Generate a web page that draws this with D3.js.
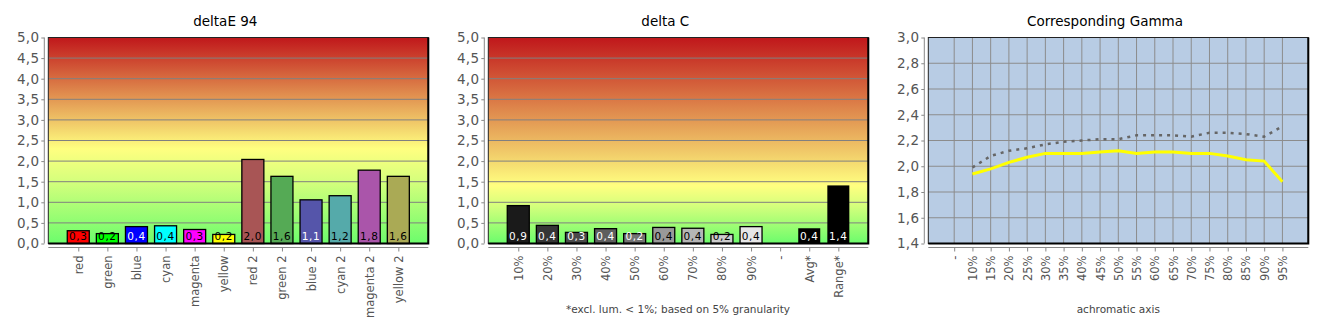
<!DOCTYPE html>
<html><head><meta charset="utf-8">
<script src="https://cdn.jsdelivr.net/npm/d3@7"></script>
<style>
html,body{margin:0;padding:0;background:#fff;}
svg{display:block;font-family:"DejaVu Sans",sans-serif;}
</style></head>
<body><svg id="c" width="1330" height="330"></svg>
<script>
// ---------- data ----------
const deTitle = "deltaE 94";
const deCats = ["red","green","blue","cyan","magenta","yellow","red 2","green 2","blue 2","cyan 2","magenta 2","yellow 2"];
const deValues = [0.31,0.24,0.41,0.43,0.34,0.22,2.04,1.63,1.06,1.16,1.78,1.63];
const deColors = ["#ff0000","#00ff00","#0000ff","#00ffff","#ff00ff","#ffff00","#a85555","#55aa55","#5555aa","#55aaaa","#aa55aa","#aaaa55"];
const deLabelColors = ["#000","#000","#fff","#000","#000","#000","#000","#000","#fff","#000","#000","#000"];

const dcTitle = "delta C";
const dcCats = ["10%","20%","30%","40%","50%","60%","70%","80%","90%","-","Avg*","Range*"];
const dcValues = [0.92,0.44,0.27,0.36,0.24,0.39,0.37,0.22,0.41,null,0.37,1.41];
const dcColors = ["#1a1a1a","#363636","#4a4a4a","#5e5e5e","#737373","#999999","#b5b5b5","#cccccc","#e6e6e6",null,"#000000","#000000"];
const dcLabelColors = ["#fff","#fff","#fff","#fff","#fff","#000","#000","#000","#000",null,"#fff","#fff"];
const dcNote = "*excl. lum. < 1%; based on 5% granularity";

const barTicks = [0,0.5,1,1.5,2,2.5,3,3.5,4,4.5,5];

const gTitle = "Corresponding Gamma";
const gCats = ["-","10%","15%","20%","25%","30%","35%","40%","45%","50%","55%","60%","65%","70%","75%","80%","85%","90%","95%"];
const gMeasured = [null,1.94,1.98,2.03,2.07,2.10,2.10,2.10,2.11,2.12,2.10,2.11,2.11,2.10,2.10,2.08,2.05,2.04,1.88];
const gReference = [null,1.99,2.08,2.12,2.14,2.17,2.19,2.20,2.21,2.21,2.24,2.24,2.24,2.23,2.26,2.26,2.25,2.23,2.31];
const gTicks = [1.4,1.6,1.8,2.0,2.2,2.4,2.6,2.8,3.0];
const gAxisLabel = "achromatic axis";

// ---------- helpers ----------
const loc = d3.formatLocale({decimal:",", thousands:".", grouping:[3], currency:["",""]});
const f1 = loc.format(".1f");
const svg = d3.select("#c");
const TOP = 37.5, BOT = 243.5, PW = 380;

function yAxis(g, y, ticks, x0){
  const ax = g.append("g").attr("transform",`translate(${x0-4},0)`)
    .call(d3.axisLeft(y).tickValues(ticks).tickFormat(f1).tickSize(3).tickPadding(2));
  ax.select(".domain").attr("stroke","#888").attr("d",`M0,${TOP}V${BOT}`);
  ax.selectAll(".tick line").attr("stroke","#888");
  ax.selectAll(".tick text").attr("fill","#555").style("font-size","13.5px").style("letter-spacing","0.3px").style("font-family","DejaVu Sans");
}
function xAxis(g, x, x0){
  const ax = g.append("g").attr("transform",`translate(0,${BOT+4})`)
    .call(d3.axisBottom(x).tickSize(4).tickFormat(d=>d));
  ax.select(".domain").attr("stroke","#888").attr("d",`M${x0},0H${x0+PW}`);
  ax.selectAll(".tick line").attr("stroke","#888");
  ax.selectAll(".tick text").attr("fill","#555").style("font-size","11.5px").style("font-family","DejaVu Sans")
    .attr("transform","rotate(-90)").attr("text-anchor","end").attr("x",-8).attr("y",0).attr("dy","0.35em");
}
function frame(g, x0){
  g.append("rect").attr("x",x0).attr("y",TOP).attr("width",PW).attr("height",BOT-TOP)
    .attr("fill","none").attr("stroke","#222").attr("stroke-width",1);
  g.append("path").attr("d",`M${x0+PW},${TOP}V${BOT}H${x0}`).attr("fill","none").attr("stroke","#000").attr("stroke-width",2);
}
function title(text, cx){
  svg.append("text").attr("x",cx).attr("y",26).attr("text-anchor","middle")
    .style("font-size","13.5px").attr("fill","#000").text(text);
}

function barPanel(id, x0, cats, vals, cols, lcols, yellowAt, ttl){
  const g = svg.append("g");
  const y = d3.scaleLinear().domain([0,5]).range([BOT,TOP]);
  const x = d3.scalePoint().domain(cats).range([x0,x0+PW]).padding(1.03);
  const defs = svg.append("defs");
  const grad = defs.append("linearGradient").attr("id",id).attr("gradientUnits","userSpaceOnUse")
    .attr("x1",0).attr("x2",0).attr("y1",y(5)).attr("y2",y(0));
  const off = (5-yellowAt)/5;
  grad.append("stop").attr("offset",0).attr("stop-color","#c0171b");
  grad.append("stop").attr("offset",off).attr("stop-color","#ffff80");
  grad.append("stop").attr("offset",off+(1-off)*0.35).attr("stop-color","#d4ff7c");
  grad.append("stop").attr("offset",1).attr("stop-color","#6cfc6c");
  g.append("rect").attr("x",x0).attr("y",TOP).attr("width",PW).attr("height",BOT-TOP).attr("fill",`url(#${id})`);
  g.selectAll(".grid").data(barTicks.filter(t=>t>0&&t<5)).join("line")
    .attr("x1",x0).attr("x2",x0+PW).attr("y1",d=>y(d)).attr("y2",d=>y(d)).attr("stroke","#808080").attr("stroke-width",1);
  const data = cats.map((c,i)=>({c,v:vals[i],col:cols[i],lc:lcols[i]})).filter(d=>d.v!=null);
  g.selectAll(".bar").data(data).join("rect")
    .attr("x",d=>x(d.c)-11).attr("width",22).attr("y",d=>y(d.v)).attr("height",d=>y(0)-y(d.v))
    .attr("fill",d=>d.col).attr("stroke",d=>d.col==="#000000"?"none":"#000").attr("stroke-width",1.3);
  g.selectAll(".lbl").data(data).join("text")
    .attr("x",d=>x(d.c)).attr("y",BOT-4).attr("text-anchor","middle").attr("fill",d=>d.lc)
    .style("font-size","10.5px").style("letter-spacing","0.6px").text(d=>f1(d.v));
  frame(g, x0);
  yAxis(g, y, barTicks, x0);
  xAxis(g, x, x0);
  title(ttl, x0+PW/2-13);
}

barPanel("gr1", 48.3, deCats, deValues, deColors, deLabelColors, 2.3, deTitle);
barPanel("gr2", 488.3, dcCats, dcValues, dcColors, dcLabelColors, 1.4, dcTitle);
svg.append("text").attr("x",678).attr("y",313).attr("text-anchor","middle")
  .style("font-size","10.5px").attr("fill","#444").text(dcNote);

// ---------- gamma panel ----------
(function(){
  const x0 = 928.3;
  const g = svg.append("g");
  const y = d3.scaleLinear().domain([1.4,3.0]).range([BOT,TOP]);
  const x = d3.scalePoint().domain(gCats).range([x0,x0+PW]).padding(1.42);
  g.append("rect").attr("x",x0).attr("y",TOP).attr("width",PW).attr("height",BOT-TOP).attr("fill","#b8cce4");
  g.selectAll(".hg").data(gTicks.slice(1,-1)).join("line")
    .attr("x1",x0).attr("x2",x0+PW).attr("y1",d=>y(d)).attr("y2",d=>y(d)).attr("stroke","#8c8c8c");
  g.selectAll(".vg").data(gCats).join("line")
    .attr("x1",d=>x(d)).attr("x2",d=>x(d)).attr("y1",TOP).attr("y2",BOT).attr("stroke","#8c8c8c");
  const line = d3.line().defined(d=>d.v!=null).x(d=>x(d.c)).y(d=>y(d.v));
  g.append("path").datum(gCats.map((c,i)=>({c,v:gReference[i]})))
    .attr("d",line).attr("fill","none").attr("stroke","#666").attr("stroke-width",2.5).attr("stroke-dasharray","3,5");
  g.append("path").datum(gCats.map((c,i)=>({c,v:gMeasured[i]})))
    .attr("d",line).attr("fill","none").attr("stroke","#ffff00").attr("stroke-width",3);
  frame(g, x0);
  yAxis(g, y, gTicks, x0);
  xAxis(g, x, x0);
  title(gTitle, 1105);
  svg.append("text").attr("x",x0+PW/2).attr("y",313).attr("text-anchor","middle")
    .style("font-size","10.5px").attr("fill","#444").text(gAxisLabel);
})();
</script></body></html>
